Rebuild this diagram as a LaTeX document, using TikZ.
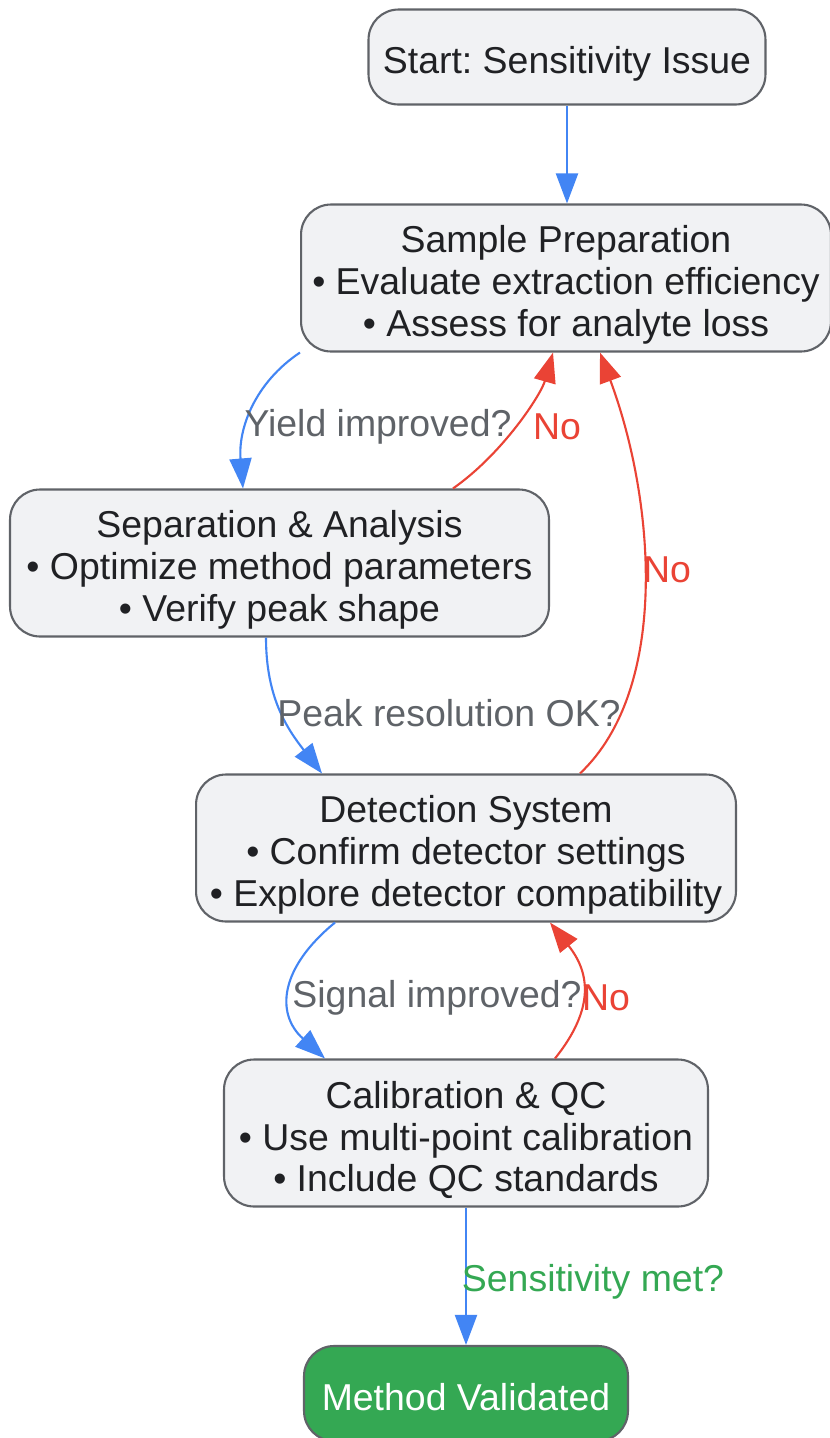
\documentclass[tikz,border=0pt]{standalone}
\usepackage{fontspec}
\setmainfont{Liberation Sans}
\usetikzlibrary{arrows.meta,calc}

\definecolor{boxfill}{HTML}{F1F2F4}
\definecolor{boxline}{HTML}{606368}
\definecolor{ink}{HTML}{202124}
\definecolor{flowblue}{HTML}{4285F4}
\definecolor{backred}{HTML}{EA4335}
\definecolor{okgreen}{HTML}{34A853}
\definecolor{askgray}{HTML}{5F6368}
\frenchspacing
\newcommand{\boxlift}{\rule{0pt}{23.5pt}}

\begin{document}
\begin{tikzpicture}[x=0.02cm,y=-0.02cm]
            \tikzstyle{box}=[rectangle, rounded corners=0.6cm, draw=boxline,
            fill=boxfill, line width=1.2pt, text=ink, align=center,
            inner sep=0pt, minimum height=2.94cm,
            font=\fontsize{21.3}{23.8}\selectfont]
            \tikzstyle{pill}=[box, minimum height=1.9cm]
            \tikzstyle{flow}=[draw=flowblue, line width=1.2pt,
            -{Triangle[length=0.6cm, width=0.44cm]}]
            \tikzstyle{back}=[flow, draw=backred]
            \tikzstyle{ask}=[inner sep=0pt, text=askgray,
            font=\fontsize{21.3}{23.8}\selectfont]
            \useasboundingbox[fill=white] (0,0) rectangle (830,1438);

            \node[pill, minimum width=7.94cm] (start) at (567,57)
                {\boxlift Start: Sensitivity Issue};
            \node[box, minimum width=10.6cm] (prep) at (566,278)
                {\boxlift Sample Preparation\\ • Evaluate extraction efficiency\\ • Assess for analyte loss};
            \node[box, minimum width=10.78cm] (sep) at (279.5,563)
                {\boxlift Separation \& Analysis\\ • Optimize method parameters\\ • Verify peak shape};
            \node[box, minimum width=10.8cm] (det) at (466,848)
                {\boxlift Detection System\\ • Confirm detector settings\\ • Explore detector compatibility};
            \node[box, minimum width=9.68cm] (cal) at (466,1133)
                {\boxlift Calibration \& QC\\ • Use multi-point calibration\\ • Include QC standards};
            \node[pill, minimum width=6.48cm, fill=okgreen, text=white] (done) at (466,1393.5)
                {\rule{0pt}{20pt}Method Validated};

            \draw[flow] (start.south) -- (start.south |- prep.north);
            \draw[flow] (prep.south west) .. controls +(-45,30) and +(-5,-60)
                .. ($(sep.north)+(-36.5,0)$);
            \draw[back] ($(sep.north)+(173.5,0)$) .. controls +(50,-35) and +(-12,42)
                .. ($(prep.south)+(-13,0)$);
            \draw[flow] ($(sep.south)+(-13.5,0)$) .. controls +(0,60) and +(-35,-45)
                .. ($(det.north)+(-144,0)$);
            \draw[back] ($(det.north)+(114,0)$) .. controls +(90,-85) and +(55,148)
                .. ($(prep.south)+(34,0)$);
            \draw[flow] ($(det.south)+(-131,0)$) .. controls +(-55,45) and +(-50,-45)
                .. ($(cal.north)+(-141,0)$);
            \draw[back] ($(cal.north)+(89,0)$) .. controls +(40,-50) and +(40,50)
                .. ($(det.south)+(84,0)$);
            \draw[flow] (cal.south) -- (cal.south |- done.north);

            \node[ask] (q1) at (378,427) {Yield improved?};
            \node[ask, text=backred] (n1) at (557,427) {No};
            \node[ask] (q2) at (449,713) {Peak resolution OK?};
            \node[ask, text=backred] (n2) at (667,570) {No};
            \node[ask] (q3) at (437,998) {Signal improved?};
            \node[ask, text=backred] (n3) at (606,998) {No};
            \node[ask, text=okgreen] (q4) at (593,1282) {Sensitivity met?};
        \end{tikzpicture}
\end{document}
